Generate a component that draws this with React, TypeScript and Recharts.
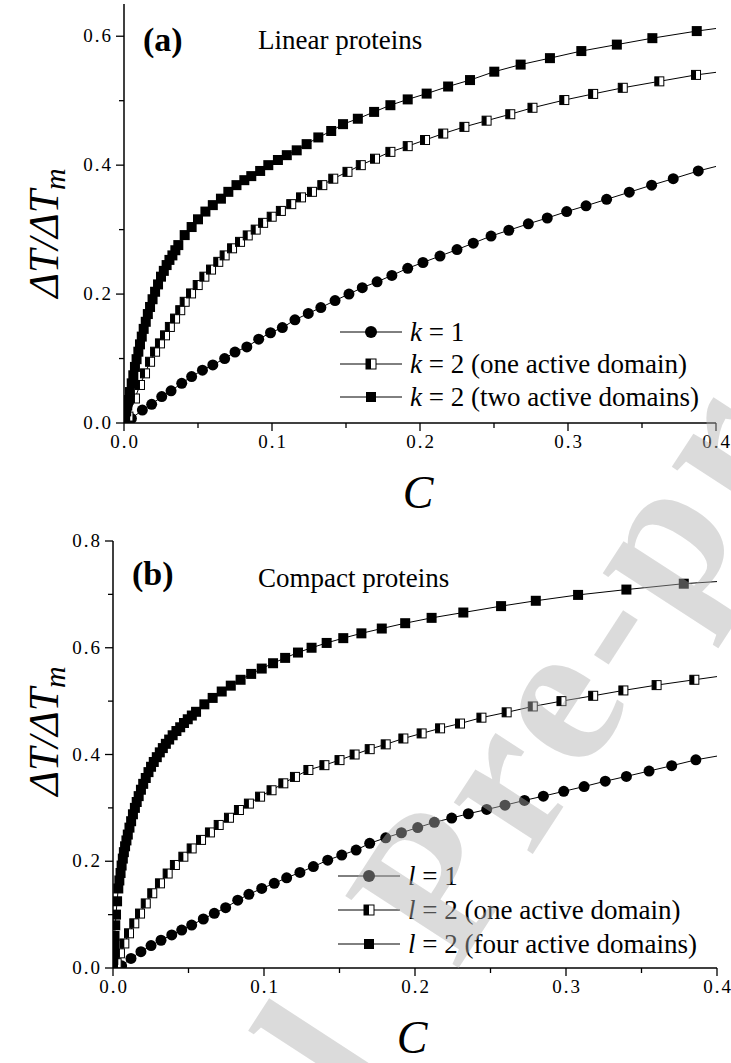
import { LineChart, Line, XAxis, YAxis, Legend } from 'recharts'

const SERIF = '"Liberation Serif", "Times New Roman", Times, serif'

// (a) linear proteins
const aC1 = [0, 0.005, 0.0124, 0.0187, 0.0255, 0.0318, 0.039, 0.0457, 0.053, 0.06, 0.068, 0.075, 0.083, 0.091, 0.099, 0.107, 0.1155, 0.1245, 0.133, 0.1426, 0.152, 0.161, 0.171, 0.181, 0.1917, 0.202, 0.2135, 0.225, 0.236, 0.248, 0.26, 0.2732, 0.286, 0.2991, 0.3122, 0.3261, 0.3414, 0.3565, 0.3711, 0.388, 0.4]
const aV1 = [0, 0.007, 0.02, 0.029, 0.041, 0.05, 0.0615, 0.072, 0.082, 0.09, 0.1, 0.11, 0.118, 0.13, 0.14, 0.148, 0.16, 0.17, 0.179, 0.19, 0.2, 0.21, 0.219, 0.229, 0.24, 0.249, 0.259, 0.269, 0.279, 0.29, 0.299, 0.309, 0.318, 0.328, 0.337, 0.347, 0.358, 0.369, 0.379, 0.391, 0.398]

const aC2 = [0, 0.003, 0.0074, 0.0108, 0.0142, 0.0176, 0.021, 0.0243, 0.0277, 0.031, 0.0345, 0.038, 0.041, 0.0453, 0.0498, 0.0543, 0.0588, 0.0637, 0.068, 0.073, 0.0784, 0.0836, 0.089, 0.094, 0.0998, 0.106, 0.113, 0.1196, 0.127, 0.134, 0.1414, 0.151, 0.16, 0.1696, 0.18, 0.1917, 0.2034, 0.2157, 0.23, 0.245, 0.261, 0.276, 0.2975, 0.317, 0.337, 0.3617, 0.3865, 0.4]
const aV2 = [0, 0.01, 0.038, 0.059, 0.077, 0.095, 0.1106, 0.1235, 0.136, 0.149, 0.162, 0.175, 0.188, 0.201, 0.214, 0.227, 0.238, 0.25, 0.26, 0.271, 0.281, 0.291, 0.3, 0.3105, 0.32, 0.329, 0.3395, 0.35, 0.3586, 0.369, 0.379, 0.3896, 0.4, 0.41, 0.4206, 0.4295, 0.439, 0.449, 0.4594, 0.469, 0.479, 0.489, 0.501, 0.5105, 0.52, 0.53, 0.54, 0.544]

const aC3 = [0, 0.0008, 0.0015, 0.0022, 0.003, 0.004, 0.0052, 0.0063, 0.0074, 0.0085, 0.0097, 0.0108, 0.012, 0.0133, 0.0147, 0.0161, 0.0176, 0.0193, 0.021, 0.023, 0.025, 0.0269, 0.0288, 0.0307, 0.0327, 0.0347, 0.0367, 0.041, 0.0457, 0.05, 0.055, 0.06, 0.0655, 0.0705, 0.076, 0.0813, 0.086, 0.092, 0.0975, 0.104, 0.11, 0.1167, 0.1234, 0.1313, 0.14, 0.148, 0.158, 0.169, 0.18, 0.1917, 0.2045, 0.219, 0.2338, 0.2502, 0.268, 0.2878, 0.309, 0.333, 0.357, 0.387, 0.4]
const aV3 = [0, 0.01, 0.018, 0.027, 0.0357, 0.048, 0.0615, 0.074, 0.087, 0.099, 0.1106, 0.122, 0.134, 0.146, 0.157, 0.169, 0.18, 0.192, 0.2036, 0.215, 0.227, 0.236, 0.245, 0.253, 0.26, 0.268, 0.276, 0.2915, 0.304, 0.316, 0.328, 0.338, 0.348, 0.3586, 0.369, 0.3767, 0.383, 0.391, 0.4, 0.408, 0.4155, 0.423, 0.4326, 0.443, 0.453, 0.4636, 0.472, 0.4826, 0.493, 0.502, 0.511, 0.522, 0.532, 0.545, 0.556, 0.566, 0.577, 0.587, 0.597, 0.608, 0.612]

// (b) compact proteins
const bC1 = [0, 0.0057, 0.0119, 0.0185, 0.0252, 0.0318, 0.0389, 0.0455, 0.0521, 0.0598, 0.0671, 0.0746, 0.0826, 0.09, 0.0985, 0.1068, 0.115, 0.1238, 0.1327, 0.1422, 0.1515, 0.161, 0.17, 0.1806, 0.191, 0.2018, 0.2128, 0.2243, 0.2353, 0.2475, 0.2596, 0.2725, 0.285, 0.2985, 0.312, 0.326, 0.34, 0.355, 0.37, 0.386, 0.4]
const bV1 = [0, 0.004, 0.018, 0.0306, 0.042, 0.052, 0.062, 0.071, 0.0805, 0.0918, 0.1024, 0.113, 0.127, 0.138, 0.149, 0.1586, 0.169, 0.179, 0.19, 0.202, 0.2116, 0.221, 0.2335, 0.244, 0.2534, 0.263, 0.273, 0.281, 0.289, 0.297, 0.305, 0.314, 0.322, 0.331, 0.34, 0.35, 0.359, 0.369, 0.379, 0.39, 0.397]

const bC2 = [0, 0.0024, 0.0046, 0.0075, 0.0106, 0.0141, 0.0179, 0.0217, 0.026, 0.0311, 0.0362, 0.041, 0.0466, 0.0521, 0.0583, 0.0642, 0.07, 0.0768, 0.0834, 0.09, 0.0974, 0.105, 0.1128, 0.1205, 0.1294, 0.14, 0.15, 0.16, 0.17, 0.1806, 0.1923, 0.2044, 0.2166, 0.2298, 0.244, 0.2607, 0.278, 0.297, 0.318, 0.338, 0.36, 0.385, 0.4]
const bV2 = [0, 0.009, 0.0275, 0.046, 0.065, 0.0837, 0.102, 0.121, 0.14, 0.1586, 0.177, 0.193, 0.2085, 0.224, 0.24, 0.254, 0.268, 0.2815, 0.296, 0.308, 0.321, 0.333, 0.346, 0.358, 0.371, 0.38, 0.3895, 0.4, 0.41, 0.419, 0.43, 0.4395, 0.449, 0.458, 0.469, 0.479, 0.49, 0.5, 0.51, 0.52, 0.53, 0.54, 0.546]

const bC3 = [0, 0.0002, 0.0004, 0.0007, 0.001, 0.0015, 0.002, 0.0027, 0.0035, 0.0042, 0.005, 0.0057, 0.0065, 0.0072, 0.008, 0.0089, 0.0098, 0.0109, 0.012, 0.0132, 0.0145, 0.0157, 0.017, 0.0185, 0.02, 0.0217, 0.0235, 0.0252, 0.027, 0.029, 0.031, 0.033, 0.035, 0.0372, 0.0395, 0.042, 0.0445, 0.047, 0.0495, 0.0522, 0.055, 0.0605, 0.066, 0.072, 0.078, 0.0845, 0.0915, 0.0985, 0.106, 0.114, 0.1225, 0.1315, 0.1415, 0.1525, 0.1645, 0.178, 0.1935, 0.211, 0.232, 0.257, 0.28, 0.308, 0.34, 0.378, 0.4]
const bV3 = [0, 0.015, 0.03, 0.045, 0.06, 0.08, 0.1, 0.125, 0.149, 0.164, 0.178, 0.192, 0.205, 0.217, 0.228, 0.239, 0.25, 0.263, 0.275, 0.288, 0.3, 0.311, 0.322, 0.334, 0.345, 0.356, 0.367, 0.377, 0.386, 0.395, 0.404, 0.412, 0.42, 0.428, 0.436, 0.444, 0.451, 0.459, 0.466, 0.473, 0.48, 0.494, 0.506, 0.518, 0.529, 0.54, 0.551, 0.561, 0.571, 0.581, 0.591, 0.6, 0.609, 0.618, 0.627, 0.636, 0.646, 0.656, 0.666, 0.678, 0.688, 0.699, 0.709, 0.72, 0.724]

const xTicks = [0, 0.05, 0.1, 0.15, 0.2, 0.25, 0.3, 0.35, 0.4]
const aYTicks = [0, 0.1, 0.2, 0.3, 0.4, 0.5, 0.6]
const bYTicks = [0, 0.1, 0.2, 0.3, 0.4, 0.5, 0.6, 0.7, 0.8]

const aLegend = [
  { v: 'k', rest: ' = 1', kind: 'circle' },
  { v: 'k', rest: ' = 2 (one active domain)', kind: 'half' },
  { v: 'k', rest: ' = 2 (two active domains)', kind: 'square' },
]
const bLegend = [
  { v: 'l', rest: ' = 1', kind: 'circle' },
  { v: 'l', rest: ' = 2 (one active domain)', kind: 'half' },
  { v: 'l', rest: ' = 2 (four active domains)', kind: 'square' },
]

const rows = (cs: number[], vs: number[]) => cs.map((c, i) => ({ c, v: vs[i] }))

const AX = { stroke: '#000', strokeWidth: 1.5 }
const MAJ = 8
const MIN = 5
const isTenth = (v: number) => Math.abs(v * 10 - Math.round(v * 10)) < 1e-6
const isFifth = (v: number) => isTenth(v) && Math.round(v * 10) % 2 === 0

function Marker({ x, y, kind, s }: { x: number; y: number; kind: string; s: number }) {
  if (kind === 'circle') return <circle cx={x} cy={y} r={s / 2} fill="#000" />
  if (kind === 'square') return <rect x={x - s / 2} y={y - s / 2} width={s} height={s} fill="#000" />
  return (
    <g>
      <rect x={x - s / 2} y={y - s / 2} width={s} height={s} fill="#fff" stroke="#000" strokeWidth={1} />
      <rect x={x - s / 2} y={y - s / 2} width={s / 2} height={s} fill="#000" />
    </g>
  )
}

const dots = (kind: string, s: number) => (p: any) => {
  const { cx, cy, index, payload } = p
  if (cx == null || cy == null || payload.c >= 0.4) return <g key={index} />
  return (
    <g key={index}>
      <Marker x={cx} y={cy} kind={kind} s={s} />
    </g>
  )
}

const tickStyle = { fontFamily: SERIF, fontSize: 19, letterSpacing: 2, fill: '#000' }

const BottomTick = (p: any) => {
  const v = p.payload.value
  const major = isTenth(v)
  return (
    <g>
      <line x1={p.x} x2={p.x} y1={p.y} y2={p.y + (major ? MAJ : MIN)} stroke="#000" strokeWidth={1.3} />
      {major && (
        <text x={p.x + 1} y={p.y + 25} textAnchor="middle" style={tickStyle}>
          {v.toFixed(1)}
        </text>
      )}
    </g>
  )
}

const TopTick = (p: any) => {
  const major = isTenth(p.payload.value)
  return <line x1={p.x} x2={p.x} y1={p.y} y2={p.y + (major ? MAJ : MIN)} stroke="#000" strokeWidth={1.3} />
}

const LeftTick = (p: any) => {
  const v = p.payload.value
  const major = isFifth(v)
  return (
    <g>
      <line x1={p.x - (major ? MAJ : MIN)} x2={p.x} y1={p.y} y2={p.y} stroke="#000" strokeWidth={1.3} />
      {major && (
        <text x={p.x - 11} y={p.y + 6} textAnchor="end" style={tickStyle}>
          {v.toFixed(1)}
        </text>
      )}
    </g>
  )
}

const RightTick = (p: any) => {
  const major = isFifth(p.payload.value)
  return <line x1={p.x - (major ? MAJ : MIN)} x2={p.x} y1={p.y} y2={p.y} stroke="#000" strokeWidth={1.3} />
}

function LegendBlock({ items, ys }: { items: typeof aLegend; ys: number[] }) {
  return (
    <svg width={400} height={120} style={{ overflow: 'visible' }}>
      {items.map((it, i) => (
        <g key={it.rest}>
          <line x1={10} x2={72} y1={ys[i]} y2={ys[i]} stroke="#000" strokeWidth={1} />
          <Marker x={41} y={ys[i]} kind={it.kind} s={it.kind === 'circle' ? 12 : 10} />
          <text x={80} y={ys[i] + 9} style={{ fontFamily: SERIF, fontSize: 27, fill: '#000' }}>
            <tspan style={{ fontStyle: 'italic' }}>{it.v}</tspan>
            {it.rest}
          </text>
        </g>
      ))}
    </svg>
  )
}

function Panel({ height, marginTop, left, right, xHeight, yMax, yTicks, series, legend, legendPos, legendYs }: any) {
  return (
    <LineChart width={731} height={height} margin={{ top: marginTop, right, bottom: 0, left: 0 }}>
      <XAxis
        xAxisId={0}
        type="number"
        dataKey="c"
        domain={[0, 0.4]}
        ticks={xTicks}
        interval={0}
        allowDataOverflow
        height={xHeight}
        tickSize={0}
        tickMargin={0}
        tickLine={false}
        axisLine={AX}
        tick={BottomTick}
      />
      <XAxis
        xAxisId="top"
        orientation="top"
        type="number"
        dataKey="c"
        domain={[0, 0.4]}
        ticks={xTicks}
        interval={0}
        allowDataOverflow
        height={0}
        tickSize={0}
        tickMargin={0}
        tickLine={false}
        axisLine={AX}
        tick={TopTick}
      />
      <YAxis
        yAxisId={0}
        type="number"
        domain={[0, yMax]}
        ticks={yTicks}
        interval={0}
        allowDataOverflow
        width={left}
        tickSize={0}
        tickMargin={0}
        tickLine={false}
        axisLine={AX}
        tick={LeftTick}
      />
      <YAxis
        yAxisId="right"
        orientation="right"
        type="number"
        domain={[0, yMax]}
        ticks={yTicks}
        interval={0}
        allowDataOverflow
        width={0}
        tickSize={0}
        tickMargin={0}
        tickLine={false}
        axisLine={AX}
        tick={RightTick}
      />
      {series.map((s: any) => (
        <Line
          key={s.kind}
          data={s.data}
          dataKey="v"
          type="linear"
          stroke="#000"
          strokeWidth={1}
          dot={dots(s.kind, s.size)}
          activeDot={false}
          legendType="none"
          isAnimationActive={false}
        />
      ))}
      <Legend
        layout="horizontal"
        verticalAlign="middle"
        align="center"
        wrapperStyle={{ left: legendPos[0], top: legendPos[1], width: 400, height: 120 }}
        content={() => <LegendBlock items={legend} ys={legendYs} />}
      />
    </LineChart>
  )
}

export default function App() {
  const aSeries = [
    { kind: 'circle', size: 11, data: rows(aC1, aV1) },
    { kind: 'half', size: 9, data: rows(aC2, aV2) },
    { kind: 'square', size: 10, data: rows(aC3, aV3) },
  ]
  const bSeries = [
    { kind: 'circle', size: 11, data: rows(bC1, bV1) },
    { kind: 'half', size: 9, data: rows(bC2, bV2) },
    { kind: 'square', size: 10, data: rows(bC3, bV3) },
  ]
  const txt = (size: number, extra: any = {}) => ({ fontFamily: SERIF, fontSize: size, fill: '#000', ...extra })
  const yLabel = txt(42, { fontStyle: 'italic' })
  return (
    <div style={{ position: 'absolute', left: 0, top: 0, width: 731, height: 1063, background: '#fff', overflow: 'hidden' }}>
      <div style={{ position: 'absolute', left: 0, top: 0 }}>
        <Panel
          height={470}
          marginTop={4}
          left={124}
          right={15}
          xHeight={47}
          yMax={0.65}
          yTicks={aYTicks}
          series={aSeries}
          legend={aLegend}
          legendPos={[330, 310]}
          legendYs={[22, 54, 87]}
        />
      </div>
      <div style={{ position: 'absolute', left: 0, top: 520 }}>
        <Panel
          height={500}
          marginTop={21}
          left={113}
          right={14}
          xHeight={52}
          yMax={0.8}
          yTicks={bYTicks}
          series={bSeries}
          legend={bLegend}
          legendPos={[328, 330]}
          legendYs={[26, 60, 94]}
        />
      </div>
      <svg width={731} height={1063} style={{ position: 'absolute', left: 0, top: 0, pointerEvents: 'none' }}>
        <text x={143} y={51} style={txt(34, { fontWeight: 'bold' })}>(a)</text>
        <text x={258} y={49} style={txt(27)}>Linear proteins</text>
        <text x={132} y={585} style={txt(34, { fontWeight: 'bold' })}>(b)</text>
        <text x={258} y={587} style={txt(27)}>Compact proteins</text>
        <text transform="translate(58,233) rotate(-90)" textAnchor="middle" style={yLabel}>
          ΔT/ΔT<tspan style={{ fontSize: 30 }} dy={7}>m</tspan>
        </text>
        <text transform="translate(58,731) rotate(-90)" textAnchor="middle" style={yLabel}>
          ΔT/ΔT<tspan style={{ fontSize: 30 }} dy={7}>m</tspan>
        </text>
        <text x={418} y={508} textAnchor="middle" style={txt(46, { fontStyle: 'italic' })}>C</text>
        <text x={412} y={1053} textAnchor="middle" style={txt(46, { fontStyle: 'italic' })}>C</text>
        <g
          transform="translate(456,972) rotate(-57)"
          style={{ fontFamily: SERIF, fontWeight: 'bold', fontSize: 205, letterSpacing: 10, fill: '#b0b0b0', fillOpacity: 0.45 }}
        >
          <text x={-100} y={0} textAnchor="end">Journal</text>
          <text x={0} y={0}>Pre-proof</text>
        </g>
      </svg>
    </div>
  )
}
